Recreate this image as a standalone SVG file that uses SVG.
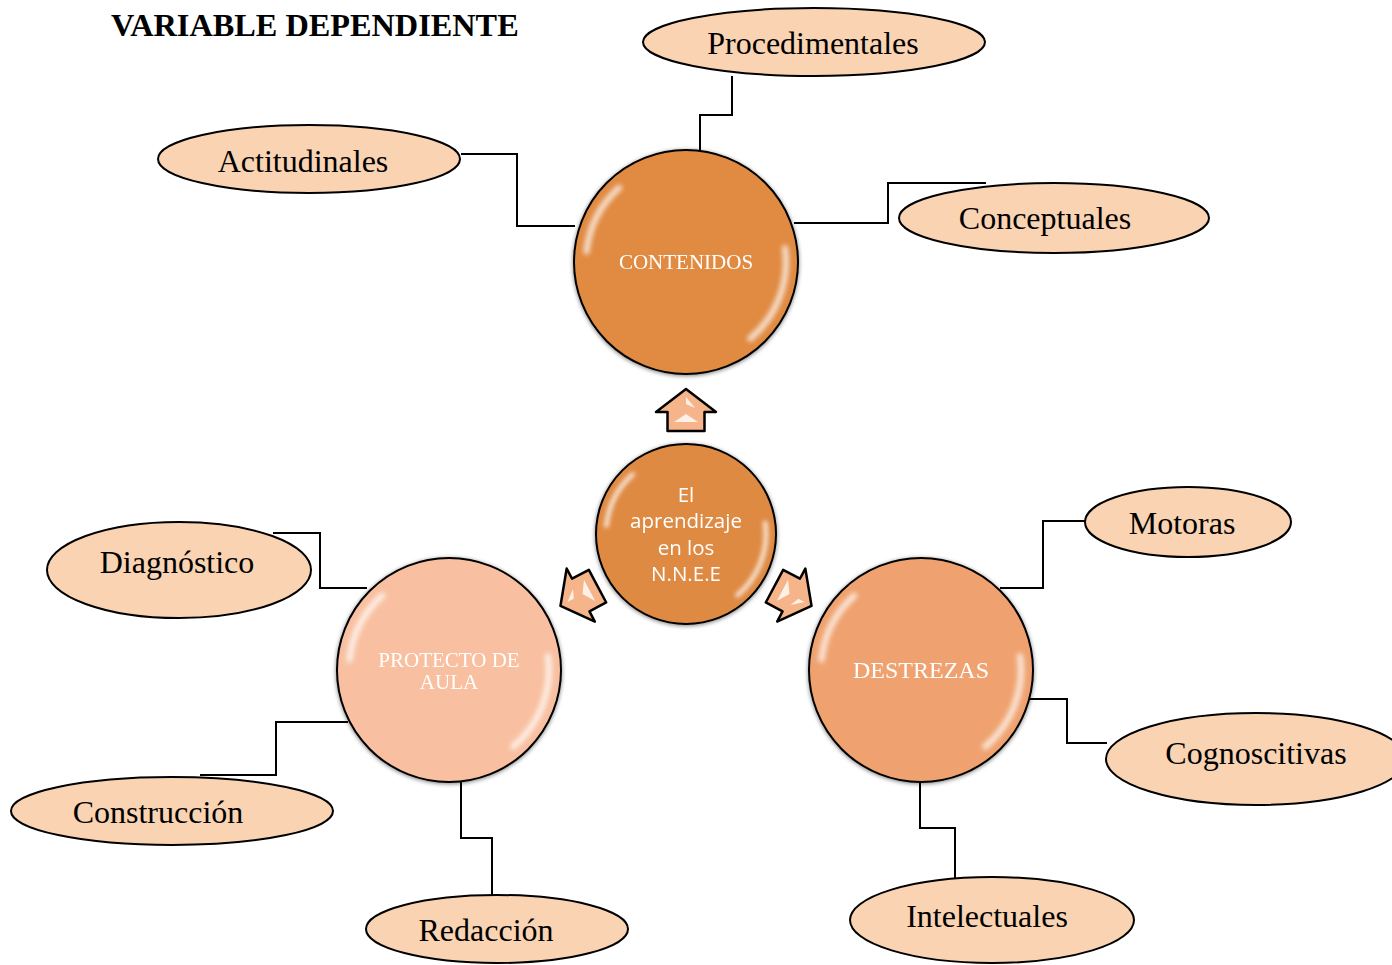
<svg xmlns="http://www.w3.org/2000/svg" width="1392" height="965" viewBox="0 0 1392 965">
<defs>
<style>
.ell{fill:#F9D3B2;stroke:#000;stroke-width:2}
.lbl{font-family:"Liberation Serif","Times New Roman",serif;font-size:32px;fill:#000;text-anchor:middle}
.ctxt{font-family:"Liberation Serif","Times New Roman",serif;font-size:21px;fill:#fff;text-anchor:middle}
.mid{font-family:"Open Sans","Noto Sans",sans-serif;font-size:20.5px;fill:#fff;text-anchor:middle}
.title{font-family:"Liberation Serif","Times New Roman",serif;font-size:32.3px;font-weight:bold;fill:#000}
.circ{stroke:#000;stroke-width:2}
.conn{fill:none;stroke:#000;stroke-width:2}
.arr{fill:#F5B489;stroke:#000;stroke-width:2.5;stroke-linejoin:round}
.hl{fill:none;stroke:#fff;stroke-width:6;stroke-linecap:round;opacity:0.75}
</style>
<filter id="blur" x="-30%" y="-30%" width="160%" height="160%"><feGaussianBlur stdDeviation="2.4"/></filter>
<filter id="shadow" x="-20%" y="-20%" width="140%" height="140%"><feGaussianBlur in="SourceAlpha" stdDeviation="2"/><feOffset dx="0" dy="1"/><feComponentTransfer><feFuncA type="linear" slope="0.5"/></feComponentTransfer><feMerge><feMergeNode/><feMergeNode in="SourceGraphic"/></feMerge></filter>
<g id="glare">
<path class="hl" d="M -99.5 -10.5 A 100 100 0 0 1 -66.9 -74.3" filter="url(#blur)"/>
<path class="hl" d="M 99 -13.9 A 100 100 0 0 1 64.3 76.6" filter="url(#blur)"/>
</g>
<g id="arrow">
<polygon class="arr" points="0,-21 30,2 18.5,2 18.5,21 -18.5,21 -18.5,2 -30,2"/>
<polygon points="0,-13 9,-2 0,-6" fill="#fff" opacity="0.8"/>
<polygon points="-12,12 12,12 0,4" fill="#fff" opacity="0.8"/>
</g>
</defs>
<rect width="1392" height="965" fill="#fff"/>
<text class="title" x="111" y="36">VARIABLE DEPENDIENTE</text>

<g id="connectors">
<polyline class="conn" points="732,76 732,115 700,115 700,152"/>
<polyline class="conn" points="461,154 517,154 517,226 575,226"/>
<polyline class="conn" points="794,223 888,223 888,183 986,183"/>
<polyline class="conn" points="1000,588 1043,588 1043,521 1085,521"/>
<polyline class="conn" points="1030,699 1067,699 1067,743 1107,743"/>
<polyline class="conn" points="920,779 920,828 955,828 955,878"/>
<polyline class="conn" points="273,533 320,533 320,588 367,588"/>
<polyline class="conn" points="348,722 276,722 276,775 200,775"/>
<polyline class="conn" points="461,781 461,838 492,838 492,896"/>
</g>

<g id="arrows">
<use href="#arrow" transform="translate(686,410)"/>
<use href="#arrow" transform="translate(579,596) rotate(-118)"/>
<use href="#arrow" transform="translate(793,596) rotate(118)"/>
</g>

<g id="contenidos" filter="url(#shadow)">
<circle class="circ" cx="686" cy="262" r="112" fill="#E08A42"/>
<use href="#glare" transform="translate(686,262)"/>
<text class="ctxt" x="686" y="269">CONTENIDOS</text>
</g>
<g id="centro" filter="url(#shadow)">
<circle class="circ" cx="686" cy="534" r="90" fill="#DF8A43"/>
<use href="#glare" transform="translate(686,534) scale(0.8)"/>
<text class="mid" x="686" y="502">El</text>
<text class="mid" x="686" y="528">aprendizaje</text>
<text class="mid" x="686" y="555">en los</text>
<text class="mid" x="686" y="581">N.N.E.E</text>
</g>
<g id="protecto" filter="url(#shadow)">
<circle class="circ" cx="449" cy="670" r="112" fill="#F8C0A0"/>
<use href="#glare" transform="translate(449,670)"/>
<text class="ctxt" x="449" y="667">PROTECTO DE</text>
<text class="ctxt" x="449" y="689">AULA</text>
</g>
<g id="destrezas" filter="url(#shadow)">
<circle class="circ" cx="921" cy="670" r="112" fill="#EFA26F"/>
<use href="#glare" transform="translate(921,670)"/>
<text class="ctxt" x="921" y="678" style="font-size:24px">DESTREZAS</text>
</g>

<g id="procedimentales"><ellipse class="ell" cx="814" cy="42" rx="171" ry="34"/><text class="lbl" x="813" y="54">Procedimentales</text></g>
<g id="actitudinales"><ellipse class="ell" cx="309" cy="159" rx="151" ry="34"/><text class="lbl" x="303" y="172">Actitudinales</text></g>
<g id="conceptuales"><ellipse class="ell" cx="1054" cy="218" rx="155" ry="35"/><text class="lbl" x="1045" y="229">Conceptuales</text></g>
<g id="motoras"><ellipse class="ell" cx="1188" cy="522" rx="103" ry="35"/><text class="lbl" x="1182" y="534">Motoras</text></g>
<g id="cognoscitivas"><ellipse class="ell" cx="1256" cy="759" rx="150" ry="46"/><text class="lbl" x="1256" y="764">Cognoscitivas</text></g>
<g id="intelectuales"><ellipse class="ell" cx="992" cy="920" rx="142" ry="43"/><text class="lbl" x="987" y="927">Intelectuales</text></g>
<g id="diagnostico"><ellipse class="ell" cx="179" cy="570" rx="132" ry="48"/><text class="lbl" x="177" y="573">Diagnóstico</text></g>
<g id="construccion"><ellipse class="ell" cx="172" cy="811" rx="161" ry="34"/><text class="lbl" x="158" y="823">Construcción</text></g>
<g id="redaccion"><ellipse class="ell" cx="497" cy="929" rx="131" ry="34"/><text class="lbl" x="486" y="941">Redacción</text></g>
</svg>
